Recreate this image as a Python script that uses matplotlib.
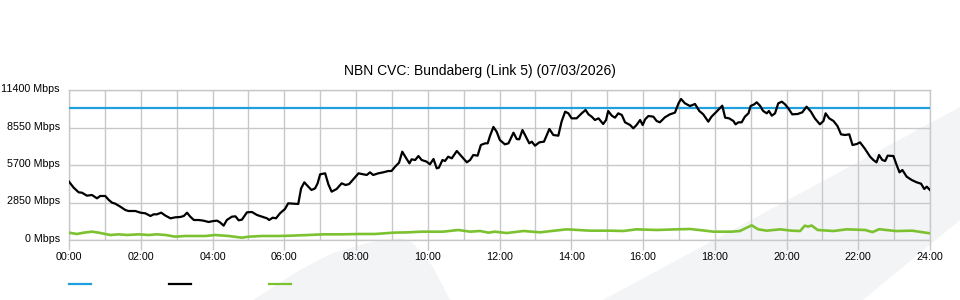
import matplotlib
matplotlib.use("Agg")
import matplotlib.pyplot as plt
import matplotlib.transforms as mtransforms
from matplotlib.lines import Line2D
from matplotlib.patches import Polygon

plt.rcParams['font.family'] = ['Liberation Sans', 'DejaVu Sans']

# capacity of the link (Mbps)
capacity_hours = [0, 24]
capacity_mbps = [10000, 10000]

# main traffic series (black), hours of day vs Mbps
traffic_hours = [
    0.00, 0.13, 0.27, 0.36, 0.50, 0.64, 0.78, 0.87, 1.01, 1.11, 1.20, 1.29, 1.43, 1.57, 1.66, 1.85,
    1.99, 2.13, 2.27, 2.36, 2.45, 2.57, 2.69, 2.83, 2.96, 3.10, 3.20, 3.29, 3.38, 3.48, 3.61, 3.75,
    3.89, 4.03, 4.13, 4.22, 4.31, 4.40, 4.54, 4.64, 4.73, 4.82, 4.96, 5.10, 5.24, 5.38, 5.52, 5.58,
    5.68, 5.77, 5.88, 6.02, 6.11, 6.39, 6.47, 6.56, 6.67, 6.76, 6.86, 6.93, 7.00, 7.14, 7.23, 7.32,
    7.46, 7.60, 7.71, 7.81, 7.93, 8.07, 8.21, 8.30, 8.39, 8.48, 8.62, 8.76, 8.90, 8.99, 9.09, 9.20,
    9.29, 9.39, 9.49, 9.55, 9.65, 9.74, 9.83, 9.97, 10.06, 10.16, 10.25, 10.31, 10.41, 10.48, 10.57,
    10.67, 10.81, 10.95, 11.09, 11.18, 11.27, 11.39, 11.48, 11.60, 11.67, 11.74, 11.83, 11.92, 12.01,
    12.15, 12.25, 12.39, 12.48, 12.55, 12.64, 12.76, 12.83, 12.90, 12.99, 13.11, 13.24, 13.39, 13.50,
    13.64, 13.73, 13.83, 13.92, 14.01, 14.15, 14.29, 14.40, 14.48, 14.57, 14.66, 14.76, 14.89, 14.97,
    15.03, 15.13, 15.22, 15.31, 15.41, 15.50, 15.64, 15.73, 15.82, 15.92, 15.99, 16.06, 16.15, 16.29,
    16.38, 16.47, 16.61, 16.75, 16.89, 16.99, 17.06, 17.17, 17.31, 17.45, 17.57, 17.68, 17.82, 17.91,
    18.05, 18.21, 18.29, 18.40, 18.52, 18.58, 18.66, 18.75, 18.84, 18.94, 19.00, 19.10, 19.17, 19.26,
    19.35, 19.45, 19.51, 19.59, 19.68, 19.77, 19.87, 19.96, 20.05, 20.16, 20.31, 20.44, 20.56, 20.68,
    20.79, 20.93, 21.03, 21.09, 21.19, 21.31, 21.42, 21.52, 21.63, 21.75, 21.84, 21.96, 22.05, 22.19,
    22.33, 22.42, 22.51, 22.58, 22.67, 22.75, 22.82, 22.98, 23.07, 23.15, 23.23, 23.35, 23.49, 23.63,
    23.75, 23.84, 23.91, 24.00,
]
traffic_mbps = [
    4433, 3977, 3623, 3597, 3369, 3420, 3167, 3344, 3344, 3040, 2837, 2761, 2533, 2280, 2204, 2204,
    2077, 2027, 1824, 1951, 1951, 2077, 1849, 1647, 1723, 1748, 1824, 2077, 1773, 1520, 1520, 1469,
    1368, 1444, 1469, 1317, 1089, 1520, 1773, 1799, 1495, 1545, 2103, 2128, 1900, 1773, 1647, 1520,
    1697, 1647, 2027, 2356, 2787, 2736, 3927, 4383, 4053, 3800, 3927, 4307, 4991, 5067, 4231, 3673,
    3876, 4307, 4180, 4256, 4636, 5067, 4991, 4940, 5143, 4940, 5067, 5143, 5244, 5244, 5573, 5877,
    6713, 6257, 5827, 6131, 6080, 6384, 6080, 5953, 5751, 6156, 5447, 5497, 6080, 6004, 6333,
    6207, 6764, 6333, 5903, 6080, 6460, 6409, 7220, 7347, 7347, 7950, 8590, 8233, 7600,
    7271, 7347, 8157, 7676, 7651, 8360, 7727, 7347, 7473, 7169, 7423, 7473, 8436, 7980,
    7929, 8993, 9753, 9627, 9247, 9247, 9627, 9880, 9551, 9373, 9120, 9247, 8816, 9120,
    9804, 9449, 9297, 9627, 9500, 8943, 8740, 8487, 8740, 9120, 8740, 9171, 9424, 9373,
    9044, 8943, 9323, 9551, 9677, 10387, 10716, 10387, 10184, 10336, 9804, 9551, 8993, 9373,
    9753, 10209, 9297, 9247, 9044, 8791, 8943, 8943, 9373, 9627, 10184, 10311, 10463, 10209,
    9804, 9627, 9804, 9449, 9627, 10387, 10513, 10311, 10007, 9551, 9576, 9703, 10133, 9753,
    9247, 8791, 9044, 9627, 9247, 9044, 8664, 8031, 7980, 8031, 7220, 7296, 7423, 6916,
    6333, 6080, 5903, 6460, 6080, 6004, 6409, 6384, 5700, 5143, 5320, 4813, 4560, 4383,
    4281, 3876, 4053, 3800,
]

# second series (green)
other_hours = [
    0.00, 0.22, 0.41, 0.64, 0.83, 1.01, 1.15, 1.39, 1.62, 1.94, 2.22, 2.45, 2.69, 2.96, 3.24, 3.52,
    3.80, 4.08, 4.45, 4.82, 5.01, 5.38, 5.85, 6.20, 6.67, 7.10, 7.60, 8.10, 8.53, 9.04, 9.46, 9.83,
    10.43, 10.85, 11.18, 11.46, 11.69, 11.87, 12.20, 12.67, 13.13, 13.87, 14.52, 15.08, 15.45, 15.82,
    16.38, 16.94, 17.31, 17.73, 17.96, 18.47, 18.70, 19.03, 19.21, 19.45, 19.82, 20.14, 20.38, 20.51,
    20.60, 20.70, 20.87, 21.31, 21.68, 22.19, 22.40, 22.58, 23.05, 23.50, 24.00,
]
other_mbps = [
    557, 456, 557, 633, 557, 456, 380, 431, 380, 431, 380, 431, 380, 253, 304, 304,
    304, 380, 304, 177, 253, 304, 304, 330, 380, 431, 431, 456, 456, 557, 583, 633,
    633, 760, 633, 684, 557, 633, 530, 684, 583, 811, 709, 709, 684, 811,
    760, 811, 836, 709, 633, 633, 684, 1115, 811, 709, 811, 709, 684, 1089,
    1020, 1100, 760, 684, 811, 760, 600, 820, 680, 709, 507,
]

y_ticks = [0, 2850, 5700, 8550, 11400]
x_ticks = list(range(0, 25, 2))

blue = '#1ea0dc'
green = '#7cc230'
grid_col = '#c8c8c8'

fig = plt.figure(figsize=(9.6, 3.0), dpi=100)
ax = fig.add_axes([69 / 960, 60 / 300, 861 / 960, 150 / 300])
ax.set_facecolor('none')

# faint background watermark shapes
W, H = 960, 300
band = [(603, 300), (960, 107), (960, 220), (863, 300)]
blob = [(253, 300), (300, 270), (333, 253), (367, 243), (400, 238), (413, 243),
        (433, 267), (450, 300)]
for shape in (band, blob):
    fig.patches.append(Polygon([(x / W, 1 - y / H) for x, y in shape], closed=True,
                               transform=fig.transFigure, facecolor='#f3f4f6',
                               edgecolor='none', zorder=-10))

ax.plot(capacity_hours, capacity_mbps, color=blue, lw=1.6, zorder=3)
ax.plot(traffic_hours, traffic_mbps, color='black', lw=1.6, zorder=4)
ax.plot(other_hours, other_mbps, color=green, lw=1.9, zorder=3)

ax.set_xlim(0, 24)
ax.set_ylim(0, 11400)
ax.set_xticks(x_ticks)
ax.set_xticklabels([f"{h:02d}:00" for h in x_ticks])
ax.set_xticks(range(1, 24, 2), minor=True)
ax.set_yticks(y_ticks)
ax.set_yticklabels([f"{v} Mbps" for v in y_ticks])
ax.grid(True, which='both', color=grid_col, lw=1.0, zorder=0)
ax.set_axisbelow(True)
ax.tick_params(axis='x', which='major', length=7.5, width=1.0, color=grid_col,
               labelsize=7.75, pad=1.5)
ax.tick_params(axis='x', which='minor', length=0)
ax.tick_params(axis='y', length=0, labelsize=7.75, pad=6.5)
# y labels sit a touch above their gridlines in the reference
shift = mtransforms.ScaledTranslation(0, 2 / 100, fig.dpi_scale_trans)
for lab in ax.get_yticklabels():
    lab.set_transform(lab.get_transform() + shift)
for s in ax.spines.values():
    s.set_color(grid_col)
    s.set_linewidth(1.0)

fig.text(0.5, 1 - 71 / 300, "NBN CVC: Bundaberg (Link 5) (07/03/2026)",
         ha='center', va='center', fontsize=10)

handles = [Line2D([], [], color=c, lw=1.6) for c in (blue, 'black', green)]
fig.legend(handles, ['', '', ''], loc='center left',
           bbox_to_anchor=(69 / 960, 1 - 285 / 300), ncol=3, frameon=False,
           fontsize=8, handlelength=1.98, handletextpad=0, columnspacing=7.02,
           borderpad=0, borderaxespad=0)

fig.savefig('out.png', dpi=100)
